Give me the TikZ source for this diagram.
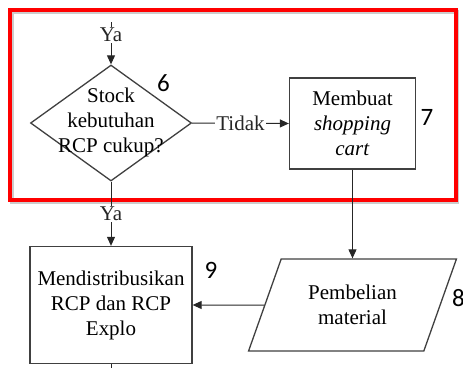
\documentclass[tikz,border=0pt]{standalone}
\usepackage{fontspec}
\setmainfont{Liberation Serif}
\newfontfamily\numfont{Carlito}
\usetikzlibrary{shapes.geometric,arrows.meta}

\begin{document}
\begin{tikzpicture}[x=1pt,y=-1pt,
  txtfont/.style={font=\fontsize{21}{25}\selectfont},
  flow/.style={draw=black!75, line width=1.3pt, fill=white, align=center, inner sep=0pt, txtfont},
  procbox/.style={flow, rectangle},
  decision/.style={flow, diamond},
  iobox/.style={flow, trapezium, trapezium stretches=true,
    trapezium left angle=63, trapezium right angle=117},
  conn/.style={line width=1pt, black!85},
  arr/.style={conn, -{Triangle[length=9pt,width=8pt]}},
  lbl/.style={fill=white, inner sep=1pt, txtfont},
  stepnum/.style={font=\numfont\fontsize{25}{25}\selectfont, inner sep=0pt},
  frame/.style={draw=red, line width=4pt}]
\useasboundingbox (0,0) rectangle (463,367);

% highlight frame around the stock check and the shopping cart step
\draw[black!20, line width=4pt] (11.5,11.5) rectangle (457,201.5);
\draw[frame] (10,10) rectangle (455.5,200);

% steps
\node[decision, minimum width=161, minimum height=116] (d6) at (111,123) {};
\node[txtfont, align=center, inner sep=0pt] (d6t) at (111,122) {Stock\\kebutuhan\\RCP cukup?};
\node[procbox, minimum width=126, minimum height=91] (b7) at (352.5,123.5)
  {Membuat\\\textit{shopping}\\\textit{cart}};
\node[iobox, minimum width=208, minimum height=92] (p8) at (352.5,305)
  {Pembelian\\material};
\node[procbox, minimum width=162, minimum height=117] (b9) at (111,305)
  {Mendistribusikan\\RCP dan RCP\\Explo};

% step numbers
\node[stepnum] (n6) at (163.5,83) {6};
\node[stepnum] (n7) at (427,117.5) {7};
\node[stepnum, anchor=west] (n8) at (452,298) {8};
\node[stepnum] (n9) at (211,270.5) {9};

% connectors
\coordinate (in6) at (111,22);
\coordinate (out9) at (111,372);
\draw[arr] (in6) -- node[lbl, pos=0.3] {Ya} (d6.north);
\draw[arr] (d6.east) -- node[lbl] {Tidak} (b7.west);
\draw[arr] (d6.south) -- node[lbl] {Ya} (b9.north);
\draw[arr] (b7.south) -- (b7.south |- p8.north);
\draw[arr] (p8.west) -- (b9.east);
\draw[conn] (b9.south) -- (out9);
\end{tikzpicture}
\end{document}
